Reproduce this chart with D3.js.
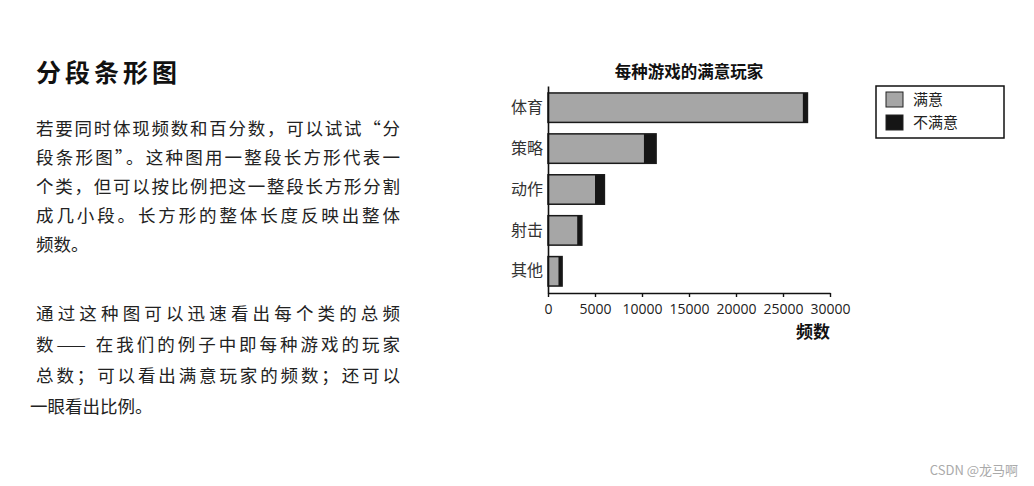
<!DOCTYPE html>
<html>
<head>
<meta charset="utf-8">
<script src="https://cdn.jsdelivr.net/npm/d3@7"></script>
<style>
  body { margin: 0; background: #fff; }
  svg { display: block; }
  text { font-family: "Noto Sans CJK SC", "Noto Sans", sans-serif; }
</style>
</head>
<body>
<div id="page"></div>
<script>
// 数据
var categories = ["体育", "策略", "动作", "射击", "其他"];
var satisfied = [27100, 10200, 5000, 3100, 1100];
var unsatisfied = [500, 1300, 1000, 500, 400];
var seriesNames = ["满意", "不满意"];
var xTicks = [0, 5000, 10000, 15000, 20000, 25000, 30000];

var heading = "分段条形图";
var para1 = [
  "若要同时体现频数和百分数，可以试试“分",
  "段条形图”。这种图用一整段长方形代表一",
  "个类，但可以按比例把这一整段长方形分割",
  "成几小段。长方形的整体长度反映出整体",
  "频数。"
];
var para2 = [
  "通过这种图可以迅速看出每个类的总频",
  "数—— 在我们的例子中即每种游戏的玩家",
  "总数；可以看出满意玩家的频数；还可以",
  "一眼看出比例。"
];

var w = 1034, h = 486;
var svg = d3.select("#page").append("svg")
  .attr("width", w)
  .attr("height", h);

// 左边文字
svg.append("text")
  .attr("x", 36).attr("y", 82)
  .attr("font-size", 25).attr("font-weight", "bold")
  .attr("letter-spacing", 4)
  .attr("fill", "#111")
  .text(heading);

para1.forEach(function(line, i) {
  var t = svg.append("text")
    .attr("x", 36).attr("y", 134.5 + i * 29)
    .attr("font-size", 17.5).attr("fill", "#222")
    .text(line);
  if (i < para1.length - 1) t.attr("textLength", 364).attr("lengthAdjust", "spacing");
});

para2.forEach(function(line, i) {
  var t = svg.append("text")
    .attr("x", i == para2.length - 1 ? 30 : 36).attr("y", 319.5 + i * 31)
    .attr("font-size", 17.5).attr("fill", "#222")
    .text(line);
  if (i < para2.length - 1) t.attr("textLength", 364).attr("lengthAdjust", "spacing");
});

// 图表
var x = d3.scaleLinear().domain([0, 30000]).range([548, 830]);
var y = d3.scaleBand().domain(categories).range([86, 293])
  .paddingInner(0.28).paddingOuter(0.17);

svg.append("text")
  .attr("x", 689).attr("y", 77.5)
  .attr("text-anchor", "middle")
  .attr("font-size", 16.5).attr("font-weight", "bold")
  .attr("fill", "#111")
  .text("每种游戏的满意玩家");

var g = svg.append("g");

g.selectAll("rect.sat")
  .data(categories)
  .enter()
  .append("rect")
  .attr("class", "sat")
  .attr("x", x(0))
  .attr("y", function(d) { return y(d); })
  .attr("width", function(d, i) { return x(satisfied[i]) - x(0); })
  .attr("height", y.bandwidth())
  .attr("fill", "#a6a6a6");

g.selectAll("rect.unsat")
  .data(categories)
  .enter()
  .append("rect")
  .attr("class", "unsat")
  .attr("x", function(d, i) { return x(satisfied[i]); })
  .attr("y", function(d) { return y(d); })
  .attr("width", function(d, i) { return x(satisfied[i] + unsatisfied[i]) - x(satisfied[i]); })
  .attr("height", y.bandwidth())
  .attr("fill", "#151515");

// 外框
g.selectAll("rect.outline")
  .data(categories)
  .enter()
  .append("rect")
  .attr("class", "outline")
  .attr("x", x(0))
  .attr("y", function(d) { return y(d); })
  .attr("width", function(d, i) { return x(satisfied[i] + unsatisfied[i]) - x(0); })
  .attr("height", y.bandwidth())
  .attr("fill", "none")
  .attr("stroke", "#1a1a1a")
  .attr("stroke-width", 1.5);

// 坐标轴
var xAxis = svg.append("g")
  .attr("transform", "translate(0,293)")
  .call(d3.axisBottom(x).tickValues(xTicks).tickFormat(d3.format("d"))
    .tickSize(4).tickSizeOuter(0));
xAxis.select(".domain").attr("stroke", "#111").attr("stroke-width", 1.6);
xAxis.selectAll(".tick line").attr("stroke", "#111").attr("stroke-width", 1.4);
xAxis.selectAll(".tick text")
  .attr("font-size", 14).attr("fill", "#222").attr("dy", "1em")
  .style("font-family", "'Open Sans', 'Noto Sans', sans-serif");

var yAxis = svg.append("g")
  .attr("transform", "translate(548,0)")
  .call(d3.axisLeft(y).tickSize(0).tickPadding(5).tickSizeOuter(0));
yAxis.select(".domain").attr("stroke", "#111").attr("stroke-width", 1.6);
yAxis.selectAll(".tick text")
  .attr("font-size", 16).attr("fill", "#333");

svg.append("text")
  .attr("x", 830).attr("y", 338)
  .attr("text-anchor", "end")
  .attr("font-size", 17).attr("font-weight", "bold")
  .attr("fill", "#111")
  .text("频数");

// 图例
var legend = svg.append("g");
legend.append("rect")
  .attr("x", 876).attr("y", 86)
  .attr("width", 128).attr("height", 52)
  .attr("fill", "#fff").attr("stroke", "#111").attr("stroke-width", 1.5);

var legendColors = ["#a6a6a6", "#151515"];
var items = legend.selectAll("g.item")
  .data(seriesNames)
  .enter()
  .append("g")
  .attr("class", "item")
  .attr("transform", function(d, i) { return "translate(886," + (92 + i * 23) + ")"; });

items.append("rect")
  .attr("width", 17).attr("height", 15)
  .attr("fill", function(d, i) { return legendColors[i]; })
  .attr("stroke", "#222").attr("stroke-width", 1);

items.append("text")
  .attr("x", 27).attr("y", 13)
  .attr("font-size", 15).attr("fill", "#222")
  .text(function(d) { return d; });

// 水印
svg.append("text")
  .attr("x", 1018).attr("y", 475)
  .attr("text-anchor", "end")
  .attr("font-size", 13).attr("fill", "#aaa")
  .text("CSDN @龙马啊");
</script>
</body>
</html>
